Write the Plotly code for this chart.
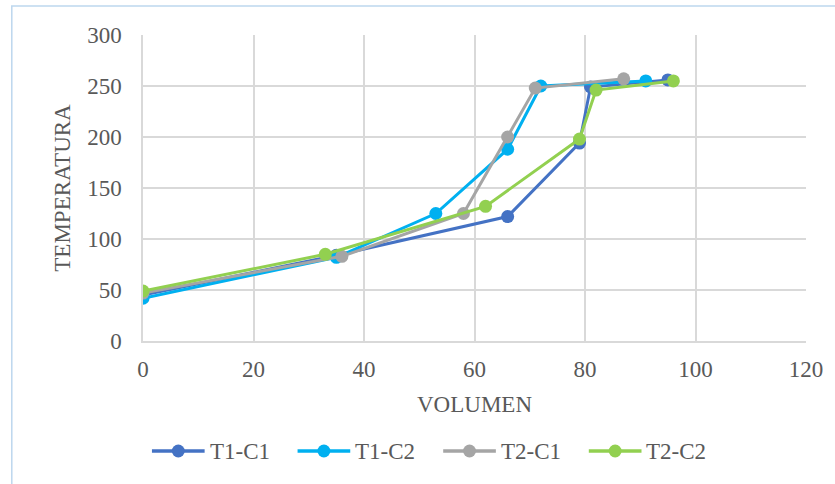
import plotly.graph_objects as go

# Volume (x) vs temperature (y) readings for each test / condition
series_names = ["T1-C1", "T1-C2", "T2-C1", "T2-C2"]
vol_t1c1 = [0, 35, 66, 79, 81, 95]
temp_t1c1 = [45, 84, 122, 194, 249, 256]
vol_t1c2 = [0, 35, 53, 66, 72, 91]
temp_t1c2 = [42, 82, 125, 188, 250, 255]
vol_t2c1 = [0, 36, 58, 66, 71, 87]
temp_t2c1 = [47, 83, 125, 200, 248, 257]
vol_t2c2 = [0, 33, 62, 79, 82, 96]
temp_t2c2 = [49, 85, 132, 198, 246, 255]

x_ticks = [0, 20, 40, 60, 80, 100, 120]
y_ticks = [0, 50, 100, 150, 200, 250, 300]

colors = ["#4472C4", "#00B0F0", "#A5A5A5", "#92D050"]
xs = [vol_t1c1, vol_t1c2, vol_t2c1, vol_t2c2]
ys = [temp_t1c1, temp_t1c2, temp_t2c1, temp_t2c2]

FONT = "Liberation Serif"
TXT = "#595959"
GRID = "#D9D9D9"
FS = 23

fig = go.Figure()
for name, x, y, c in zip(series_names, xs, ys, colors):
    fig.add_trace(go.Scatter(
        x=x, y=y, name=name, mode="lines+markers",
        line=dict(color=c, width=3),
        marker=dict(color=c, size=13),
        showlegend=False,
    ))

W, H = 835, 484
L, R, T, B = 143, 25, 35, 143
pw, ph = W - L - R, H - T - B


def px_x(p):
    return (p - L) / pw


def px_y(p):
    return (H - B - p) / ph


shapes = [dict(
    type="rect", xref="paper", yref="paper",
    x0=px_x(11), x1=px_x(900), y0=px_y(560), y1=px_y(6),
    line=dict(color="#BDD7EE", width=1.5), fillcolor="rgba(0,0,0,0)",
    layer="below",
)]
annotations = []

# legend row: line + dot symbol followed by the series name
leg_y = 451
leg_x0 = 152
leg_step = 146.5
sym_len = 53
r = 6.5
for i, (name, c) in enumerate(zip(series_names, colors)):
    x0 = leg_x0 + i * leg_step
    shapes.append(dict(
        type="line", xref="paper", yref="paper",
        x0=px_x(x0), x1=px_x(x0 + sym_len), y0=px_y(leg_y), y1=px_y(leg_y),
        line=dict(color=c, width=3.5),
    ))
    cx = x0 + sym_len / 2
    shapes.append(dict(
        type="circle", xref="paper", yref="paper",
        x0=px_x(cx - r), x1=px_x(cx + r), y0=px_y(leg_y + r), y1=px_y(leg_y - r),
        line=dict(color=c, width=0), fillcolor=c,
    ))
    annotations.append(dict(
        text=name, xref="paper", yref="paper",
        x=px_x(x0 + sym_len + 3), y=px_y(leg_y),
        xanchor="left", yanchor="middle", showarrow=False,
        font=dict(family=FONT, color=TXT, size=FS),
    ))

fig.update_layout(
    width=W, height=H,
    margin=dict(l=L, r=R, t=T, b=B),
    paper_bgcolor="white", plot_bgcolor="white",
    font=dict(family=FONT, color=TXT, size=FS),
    showlegend=False,
    xaxis=dict(
        range=[0, 120], tickvals=x_ticks,
        showgrid=True, gridcolor=GRID, gridwidth=1.5,
        showline=True, linecolor=GRID, linewidth=1.5,
        zeroline=False, ticks="", ticklabelstandoff=7,
        tickfont=dict(family=FONT, color=TXT, size=FS),
        title=dict(text="VOLUMEN", font=dict(family=FONT, color=TXT, size=FS), standoff=15),
    ),
    yaxis=dict(
        range=[0, 300], tickvals=y_ticks,
        showgrid=True, gridcolor=GRID, gridwidth=1.5,
        showline=True, linecolor=GRID, linewidth=1.5,
        zeroline=False, ticks="", ticklabelstandoff=15,
        tickfont=dict(family=FONT, color=TXT, size=FS),
        title=dict(text="TEMPERATURA", font=dict(family=FONT, color=TXT, size=FS), standoff=10),
    ),
    shapes=shapes,
    annotations=annotations,
)

fig.write_html("out.html")
